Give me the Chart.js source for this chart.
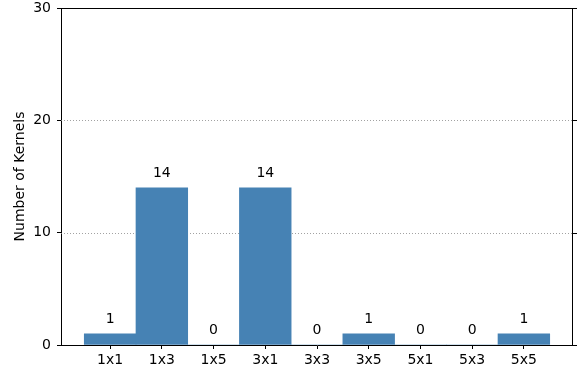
<!DOCTYPE html>
<html>
<head>
<meta charset="utf-8">
<script src="https://cdn.jsdelivr.net/npm/chart.js@4"></script>
<style>
html,body{margin:0;padding:0;background:#fff;}
#wrap{width:585px;height:381px;position:relative;}
</style>
</head>
<body>
<div id="wrap"><canvas id="c" width="585" height="381"></canvas></div>
<script>
const categories = ["1x1","1x3","1x5","3x1","3x3","3x5","5x1","5x3","5x5"];
const kernelCounts = [1,14,0,14,0,1,0,0,1];
const yTickValues = [0,10,20,30];
const gridValues = [10,20];
const yLabel = "Number of Kernels";

const FONT = "'DejaVu Sans', sans-serif";
const FS = 14;

const framePlugin = {
  id: 'frame',
  beforeDatasetsDraw(chart) {
    const {ctx, chartArea: a, scales: {y}} = chart;
    ctx.save();
    ctx.strokeStyle = '#8a8a8a';
    ctx.lineWidth = 0.8;
    ctx.setLineDash([1, 2]);
    gridValues.forEach(v => {
      const py = Math.round(y.getPixelForValue(v)) + 0.5;
      ctx.beginPath(); ctx.moveTo(a.left, py); ctx.lineTo(a.right, py); ctx.stroke();
    });
    ctx.restore();
  },
  afterDatasetsDraw(chart) {
    const {ctx, chartArea: a, scales: {x, y}} = chart;
    ctx.save();
    ctx.strokeStyle = '#000';
    ctx.lineWidth = 1;
    ctx.setLineDash([]);
    ctx.beginPath();
    ctx.moveTo(a.left, a.top + 0.5); ctx.lineTo(a.right, a.top + 0.5);
    ctx.moveTo(a.right - 0.5, a.top); ctx.lineTo(a.right - 0.5, a.bottom);
    ctx.stroke();
    yTickValues.forEach(v => {
      const py = Math.round(y.getPixelForValue(v)) + 0.5;
      ctx.beginPath(); ctx.moveTo(a.right, py); ctx.lineTo(a.right + 4, py); ctx.stroke();
    });
    ctx.fillStyle = '#000';
    ctx.font = FS + 'px ' + FONT;
    ctx.textAlign = 'center';
    ctx.textBaseline = 'alphabetic';
    kernelCounts.forEach((v, i) => {
      ctx.fillText(String(v), x.getPixelForValue(i), y.getPixelForValue(v + 1));
    });
    ctx.restore();
  }
};

new Chart(document.getElementById('c'), {
  type: 'bar',
  data: {
    datasets: [{
      data: kernelCounts.map((v, i) => ({x: i, y: v})),
      backgroundColor: '#4682b4',
      borderWidth: 0,
      barPercentage: 1,
      categoryPercentage: 1
    }]
  },
  options: {
    responsive: false,
    animation: false,
    devicePixelRatio: 1,
    layout: {padding: {top: 8, right: 12, left: 0, bottom: 0}},
    plugins: {legend: {display: false}, tooltip: {enabled: false}},
    scales: {
      x: {
        type: 'linear',
        offset: false,
        min: -0.95,
        max: 8.95,
        afterBuildTicks: s => { s.ticks = categories.map((c, i) => ({value: i})); },
        afterFit: s => { s.height = 36; s.paddingLeft = 0; s.paddingRight = 0; },
        grid: {offset: false, drawOnChartArea: false, drawTicks: true, tickLength: 4, tickColor: '#000'},
        border: {display: true, color: '#000', width: 1},
        ticks: {
          autoSkip: false, maxRotation: 0, padding: 3, color: '#000',
          font: {family: FONT, size: FS},
          callback: v => categories[v]
        }
      },
      y: {
        min: 0,
        max: 30,
        afterBuildTicks: s => { s.ticks = yTickValues.map(v => ({value: v})); },
        afterFit: s => { s.width = 61; s.paddingTop = 0; s.paddingBottom = 0; },
        grid: {drawOnChartArea: false, drawTicks: true, tickLength: 4, tickColor: '#000'},
        border: {display: true, color: '#000', width: 1},
        ticks: {padding: 6, color: '#000', font: {family: FONT, size: FS}},
        title: {
          display: true, text: yLabel, color: '#000',
          font: {family: FONT, size: FS},
          padding: {top: 12, bottom: 0}
        }
      }
    }
  },
  plugins: [framePlugin]
});
</script>
</body>
</html>
